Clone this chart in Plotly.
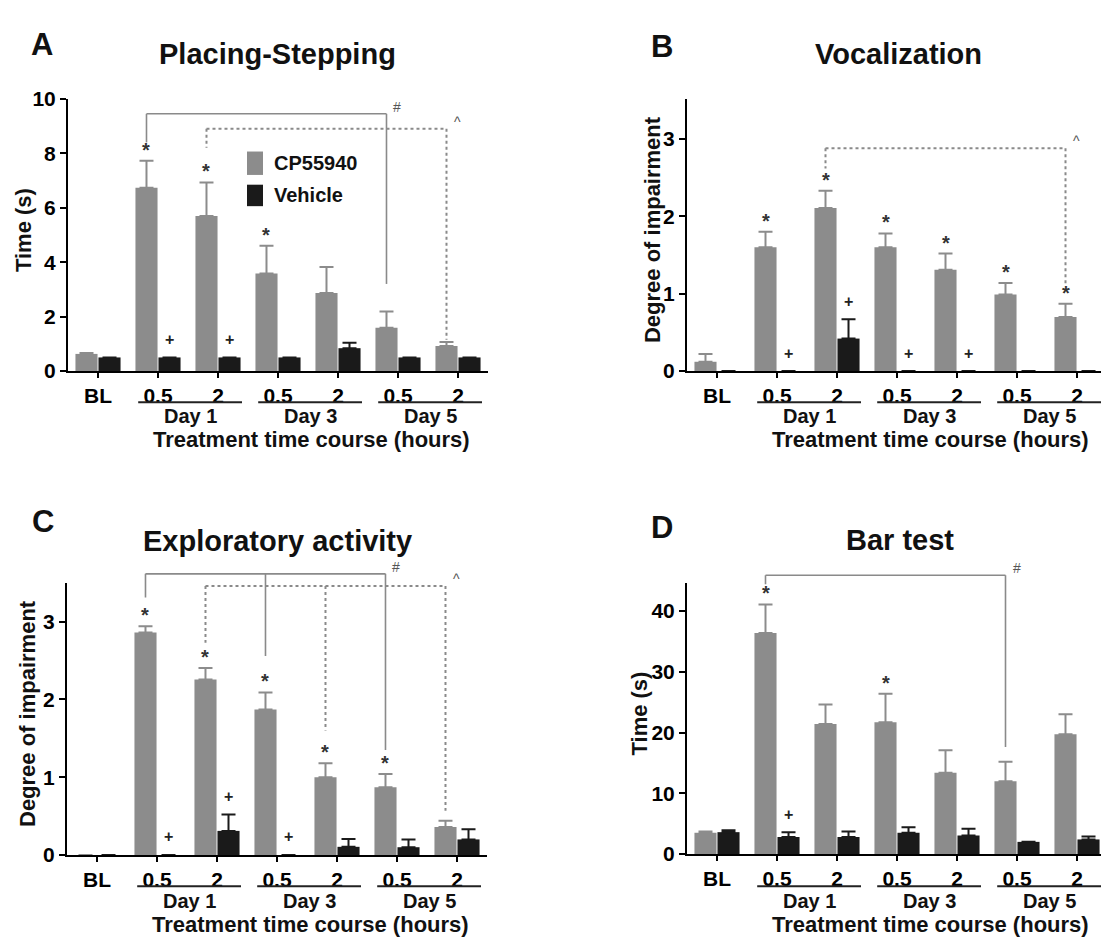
import plotly.graph_objects as go

# ---------------- data ----------------
categories = ["BL", "0.5", "2", "0.5", "2", "0.5", "2"]
day_labels = ["Day 1", "Day 3", "Day 5"]
day_groups = [(1, 2), (3, 4), (5, 6)]
series_names = ["CP55940", "Vehicle"]

# Panel A - Placing-Stepping (time, s)
a_cp_mean = [0.63, 6.73, 5.70, 3.58, 2.87, 1.59, 0.92]
a_cp_sem = [0.03, 1.00, 1.23, 1.02, 0.95, 0.60, 0.15]
a_veh_mean = [0.50, 0.50, 0.50, 0.50, 0.84, 0.50, 0.50]
a_veh_sem = [0.00, 0.00, 0.00, 0.00, 0.20, 0.00, 0.00]
a_star = [1, 2, 3]
a_plus = [1, 2]
a_brackets = [
    {"cats": [1, 5], "level": 9.45, "ends": [8.4, 3.2], "dash": "solid", "mark": "#"},
    {"cats": [2, 6], "level": 8.9, "ends": [8.2, 1.15], "dash": "dot", "mark": "^"},
]

# Panel B - Vocalization (degree of impairment)
b_cp_mean = [0.12, 1.60, 2.11, 1.60, 1.31, 0.99, 0.70]
b_cp_sem = [0.10, 0.20, 0.22, 0.18, 0.21, 0.15, 0.17]
b_veh_mean = [0.00, 0.00, 0.42, 0.00, 0.00, 0.00, 0.00]
b_veh_sem = [0.00, 0.00, 0.25, 0.00, 0.00, 0.00, 0.00]
b_star = [1, 2, 3, 4, 5, 6]
b_plus = [1, 2, 3, 4]
b_brackets = [
    {"cats": [2, 6], "level": 2.88, "ends": [2.62, 1.12], "dash": "dot", "mark": "^"},
]

# Panel C - Exploratory activity (degree of impairment)
c_cp_mean = [0.00, 2.86, 2.255, 1.87, 1.00, 0.87, 0.36]
c_cp_sem = [0.00, 0.08, 0.15, 0.22, 0.18, 0.17, 0.08]
c_veh_mean = [0.00, 0.00, 0.31, 0.00, 0.105, 0.10, 0.20]
c_veh_sem = [0.00, 0.00, 0.21, 0.00, 0.10, 0.10, 0.13]
c_star = [1, 2, 3, 4, 5]
c_plus = [1, 2, 3]
c_brackets = [
    {"cats": [1, 3, 5], "level": 3.615, "ends": [3.31, 2.56, 1.35], "dash": "solid", "mark": "#"},
    {"cats": [2, 4, 6], "level": 3.46, "ends": [2.73, 1.60, 0.57], "dash": "dot", "mark": "^"},
]

# Panel D - Bar test (time, s)
d_cp_mean = [3.5, 36.4, 21.4, 21.7, 13.4, 12.0, 19.7]
d_cp_sem = [0.2, 4.7, 3.2, 4.7, 3.7, 3.2, 3.3]
d_veh_mean = [3.6, 2.8, 2.8, 3.5, 3.05, 2.0, 2.4]
d_veh_sem = [0.3, 0.8, 0.9, 0.9, 1.1, 0.0, 0.5]
d_star = [1, 3]
d_plus = [1]
d_brackets = [
    {"cats": [1, 5], "level": 45.9, "ends": [44.4, 17.6], "dash": "solid", "mark": "#"},
]

# ---------------- style / layout ----------------
W, H = 1101, 946
FONT = "Arial, 'Liberation Sans', Helvetica, sans-serif"
GREY = "#8c8c8c"
BLACK = "#1a1a1a"
BRK = "#8a8a8a"
CAT_PX = 60.0
BARGAP = 0.233
GREY_OFF = -(1 - BARGAP) / 4
VEH_OFF = (1 - BARGAP) / 4
EXTRA_PX = 45  # room above each plot for the comparison brackets


def px(p):
    return p / W


def py(p):
    return 1 - p / H


panels = [
    dict(letter="A", title="Placing-Stepping", ytitle="Time (s)",
         cp=a_cp_mean, cpe=a_cp_sem, vh=a_veh_mean, vhe=a_veh_sem,
         star=a_star, plus=a_plus, brackets=a_brackets,
         x0=68, x1=488, yz=368, yt=89, ymax=10, dtick=2,
         letter_pos=(42, 33), title_pos=(277, 43), ytitle_x=23,
         line_y=400, day_y=414, xtitle_y=438),
    dict(letter="B", title="Vocalization", ytitle="Degree of impairment",
         cp=b_cp_mean, cpe=b_cp_sem, vh=b_veh_mean, vhe=b_veh_sem,
         star=b_star, plus=b_plus, brackets=b_brackets,
         x0=687, x1=1101, yz=368, yt=89, ymax=3.52, dtick=1,
         letter_pos=(662, 35), title_pos=(898, 43), ytitle_x=652,
         line_y=400, day_y=414, xtitle_y=438),
    dict(letter="C", title="Exploratory activity", ytitle="Degree of impairment",
         cp=c_cp_mean, cpe=c_cp_sem, vh=c_veh_mean, vhe=c_veh_sem,
         star=c_star, plus=c_plus, brackets=c_brackets,
         x0=67, x1=487, yz=864, yt=585, ymax=3.5, dtick=1,
         letter_pos=(43, 522), title_pos=(277, 542), ytitle_x=27,
         line_y=896, day_y=911, xtitle_y=935),
    dict(letter="D", title="Bar test", ytitle="Time (s)",
         cp=d_cp_mean, cpe=d_cp_sem, vh=d_veh_mean, vhe=d_veh_sem,
         star=d_star, plus=d_plus, brackets=d_brackets,
         x0=687, x1=1101, yz=863, yt=585, ymax=44.66, dtick=10,
         letter_pos=(662, 528), title_pos=(900, 541), ytitle_x=640,
         line_y=896, day_y=911, xtitle_y=935),
]

fig = go.Figure()
annotations = []
shapes = []
xs = list(range(len(categories)))


def ptext(x, y, text, size, xanchor="center", angle=0, color="#111"):
    return dict(x=px(x), y=py(y), xref="paper", yref="paper", text=text, showarrow=False,
                xanchor=xanchor, yanchor="middle", textangle=angle,
                font=dict(family=FONT, size=size, color=color, weight="bold"))


for i, p in enumerate(panels, start=1):
    xa = "x" if i == 1 else f"x{i}"
    ya = "y" if i == 1 else f"y{i}"
    xkey = "xaxis" if i == 1 else f"xaxis{i}"
    ykey = "yaxis" if i == 1 else f"yaxis{i}"
    j = i + 4
    bxa, bya = f"x{j}", f"y{j}"

    fig.add_trace(go.Bar(
        x=xs, y=p["cp"], name=series_names[0], marker=dict(color=GREY, line=dict(width=0)),
        error_y=dict(type="data", symmetric=False, array=p["cpe"], arrayminus=[0] * 7,
                     color=GREY, thickness=2, width=7),
        xaxis=xa, yaxis=ya, showlegend=False, hoverinfo="skip"))
    fig.add_trace(go.Bar(
        x=xs, y=p["vh"], name=series_names[1], marker=dict(color=BLACK, line=dict(width=0)),
        error_y=dict(type="data", symmetric=False, array=p["vhe"], arrayminus=[0] * 7,
                     color=BLACK, thickness=2, width=7),
        xaxis=xa, yaxis=ya, showlegend=False, hoverinfo="skip"))

    # comparison brackets (drawn on an invisible overlay with the same scale, taller domain)
    for b in p["brackets"]:
        bx = [c + GREY_OFF for c in b["cats"]]
        lx = [bx[0], bx[-1]]
        ly = [b["level"], b["level"]]
        for xv, ev in zip(bx, b["ends"]):
            lx += [None, xv, xv]
            ly += [None, b["level"], ev]
        fig.add_trace(go.Scatter(
            x=lx, y=ly, mode="lines", xaxis=bxa, yaxis=bya,
            line=dict(color=BRK, width=2 if b["dash"] == "dot" else 1.6, dash=b["dash"]),
            showlegend=False, hoverinfo="skip"))
        annotations.append(dict(
            x=bx[-1], y=b["level"], xref=bxa, yref=bya, text=b["mark"], showarrow=False,
            xanchor="center", yanchor="middle",
            xshift=11, yshift=7, font=dict(family=FONT, size=14, color="#555")))

    # significance marks
    for k in p["star"]:
        annotations.append(dict(
            x=k + GREY_OFF, y=p["cp"][k] + p["cpe"][k], xref=xa, yref=ya, text="*",
            showarrow=False, xanchor="center", yanchor="middle", yshift=11,
            font=dict(family=FONT, size=20, color="#333", weight="bold")))
    for k in p["plus"]:
        annotations.append(dict(
            x=k + VEH_OFF, y=p["vh"][k] + p["vhe"][k], xref=xa, yref=ya, text="+",
            showarrow=False, xanchor="center", yanchor="middle", yshift=18,
            font=dict(family=FONT, size=16, color="#222", weight="bold")))

    xmax = -0.5 + (p["x1"] - p["x0"]) / CAT_PX
    xdom = [px(p["x0"]), min(1.0, px(p["x1"]))]
    fig.layout[xkey] = dict(
        domain=xdom, anchor=ya, range=[-0.5, xmax],
        tickmode="array", tickvals=xs, ticktext=categories,
        ticks="outside", ticklen=5, tickwidth=2, tickcolor="black",
        showline=True, linewidth=2, linecolor="black", showgrid=False, zeroline=False,
        tickfont=dict(family=FONT, size=21, color="black", weight="bold"), fixedrange=True)
    fig.layout[ykey] = dict(
        domain=[py(p["yz"]), py(p["yt"])], anchor=xa, range=[0, p["ymax"]],
        tickmode="linear", tick0=0, dtick=p["dtick"],
        ticks="outside", ticklen=6, tickwidth=2, tickcolor="black",
        showline=True, linewidth=2, linecolor="black", showgrid=False, zeroline=False,
        tickfont=dict(family=FONT, size=21, color="black", weight="bold"), fixedrange=True)
    # overlay axes for brackets
    top_px = p["yt"] - EXTRA_PX
    ytop = p["ymax"] * (p["yz"] - top_px) / (p["yz"] - p["yt"])
    fig.layout[f"xaxis{j}"] = dict(domain=xdom, anchor=bya, range=[-0.5, xmax], visible=False,
                                    fixedrange=True)
    fig.layout[f"yaxis{j}"] = dict(domain=[py(p["yz"]), py(top_px)], anchor=bxa, range=[0, ytop],
                                    visible=False, fixedrange=True)

    # day group underlines and labels
    for (c0, c1), lab in zip(day_groups, day_labels):
        s, e = c0 - 0.33, c1 + 0.40
        shapes.append(dict(type="line", xref=xa, yref="paper", x0=s, x1=e,
                           y0=py(p["line_y"]), y1=py(p["line_y"]),
                           line=dict(color="#222", width=2)))
        annotations.append(dict(x=(s + e) / 2, y=py(p["day_y"]), xref=xa, yref="paper",
                                text=lab, showarrow=False, xanchor="center", yanchor="middle",
                                font=dict(family=FONT, size=20, color="#111", weight="bold")))

    # texts
    annotations.append(ptext(p["x0"] + 243, p["xtitle_y"], "Treatment time course (hours)", 22))
    annotations.append(ptext(p["ytitle_x"], (p["yz"] + p["yt"]) / 2 - 5, p["ytitle"], 22, angle=-90))
    annotations.append(ptext(p["title_pos"][0], p["title_pos"][1], p["title"], 29))
    annotations.append(ptext(p["letter_pos"][0], p["letter_pos"][1], p["letter"], 31))

# legend (panel A)
legend_items = [(series_names[0], GREY, 143, 167), (series_names[1], BLACK, 177, 199)]
for name, col, t, b in legend_items:
    shapes.append(dict(type="rect", xref="paper", yref="paper", x0=px(247), x1=px(263),
                       y0=py(b), y1=py(t), fillcolor=col, line=dict(width=0)))
    annotations.append(ptext(272, (t + b) / 2, name, 20, xanchor="left"))

fig.update_layout(
    width=W, height=H, margin=dict(l=0, r=0, t=0, b=0),
    paper_bgcolor="white", plot_bgcolor="rgba(0,0,0,0)",
    barmode="group", bargap=BARGAP, bargroupgap=0.04,
    annotations=annotations, shapes=shapes, showlegend=False,
)

fig.write_html("out.html", config={"displayModeBar": False},
               post_script="document.body.style.margin='0';document.body.style.overflow='hidden';")
